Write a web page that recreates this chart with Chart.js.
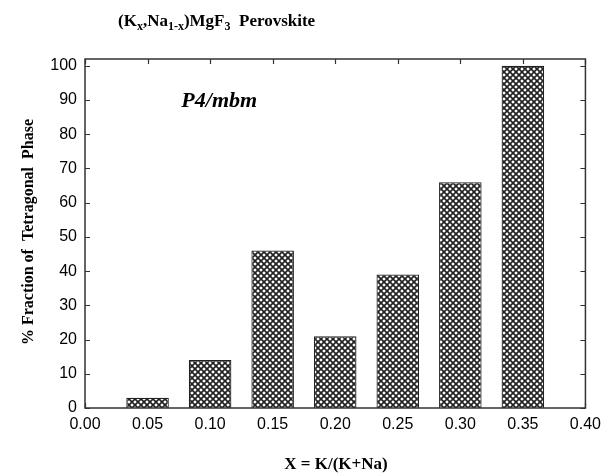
<!DOCTYPE html>
<html lang="en">
<head>
    <meta charset="UTF-8">
    <title>(Kx,Na1-x)MgF3 Perovskite</title>
    <style>
        body {
            margin: 0;
            background-color: #fff;
        }

        #chart-box {
            width: 608px;
            height: 475px;
        }
    </style>
</head>
<body>
    <div id="chart-box">
        <canvas id="phase-chart" width="608" height="475"></canvas>
    </div>

    <script src="https://cdn.jsdelivr.net/npm/chart.js"></script>

    <script>
        // data
        const compositions = [0.05, 0.10, 0.15, 0.20, 0.25, 0.30, 0.35];
        const tetragonalPct = [3, 14, 46, 21, 39, 66, 100];
        const xTicks = [0.00, 0.05, 0.10, 0.15, 0.20, 0.25, 0.30, 0.35, 0.40];
        const yTicks = [0, 10, 20, 30, 40, 50, 60, 70, 80, 90, 100];

        // cross-hatch fill for the bars
        function makeHatch() {
            const tile = document.createElement('canvas');
            tile.width = 6;
            tile.height = 6;
            const c = tile.getContext('2d');
            c.fillStyle = '#fff';
            c.fillRect(0, 0, 6, 6);
            c.strokeStyle = '#222';
            c.lineWidth = 1.7;
            c.beginPath();
            c.moveTo(-1, -1); c.lineTo(7, 7);
            c.moveTo(-1, 7); c.lineTo(7, -1);
            c.stroke();
            return c.createPattern(tile, 'repeat');
        }

        // frame with inward ticks on all four sides
        const frameTicks = {
            id: 'frameTicks',
            beforeDatasetsDraw(chart) {
                const ctx = chart.ctx;
                const a = chart.chartArea;
                const xs = chart.scales.x, ys = chart.scales.y;
                ctx.save();
                ctx.strokeStyle = '#333';
                ctx.lineWidth = 1.2;
                ctx.beginPath();
                yTicks.forEach(v => {
                    const py = Math.round(ys.getPixelForValue(v)) + 0.5;
                    ctx.moveTo(a.left, py); ctx.lineTo(a.left + 5, py);
                    ctx.moveTo(a.right, py); ctx.lineTo(a.right - 5, py);
                });
                xTicks.forEach(v => {
                    const px = Math.round(xs.getPixelForValue(v)) + 0.5;
                    ctx.moveTo(px, a.top); ctx.lineTo(px, a.top + 5);
                    ctx.moveTo(px, a.bottom); ctx.lineTo(px, a.bottom - 5);
                });
                ctx.stroke();
                ctx.restore();
            },
            afterDraw(chart) {
                const ctx = chart.ctx;
                const a = chart.chartArea;
                const xs = chart.scales.x, ys = chart.scales.y;
                ctx.save();
                ctx.strokeStyle = '#333';
                ctx.lineWidth = 1.5;
                ctx.strokeRect(a.left, a.top, a.right - a.left, a.bottom - a.top);

                ctx.fillStyle = '#000';
                // title with subscripts
                const big = 'bold 17px "Liberation Serif", serif';
                const small = 'bold 12px "Liberation Serif", serif';
                const parts = [
                    ['(K', big, 0], ['x', small, 4], [',Na', big, 0], ['1-x', small, 4],
                    [')MgF', big, 0], ['3', small, 4], ['  Perovskite', big, 0]
                ];
                let tx = 118;
                ctx.textBaseline = 'alphabetic';
                ctx.textAlign = 'left';
                parts.forEach(p => {
                    ctx.font = p[1];
                    ctx.fillText(p[0], tx, 26 + p[2]);
                    tx += ctx.measureText(p[0]).width;
                });

                // space group label
                ctx.font = 'italic bold 22px "Liberation Serif", serif';
                ctx.fillText('P4/mbm', xs.getPixelForValue(0.077), ys.getPixelForValue(88));

                // axis titles
                ctx.font = 'bold 17px "Liberation Serif", serif';
                ctx.textAlign = 'center';
                ctx.fillText('X = K/(K+Na)', 336, 469);

                ctx.font = 'bold 16px "Liberation Serif", serif';
                ctx.translate(33, 232);
                ctx.rotate(-Math.PI / 2);
                ctx.fillText('% Fraction of  Tetragonal  Phase', 0, 0);
                ctx.restore();
            }
        };

        const ctx = document.getElementById('phase-chart').getContext('2d');
        new Chart(ctx, {
            type: 'bar',
            data: {
                datasets: [{
                    data: compositions.map((x, i) => ({ x: x, y: tetragonalPct[i] })),
                    backgroundColor: makeHatch(),
                    borderColor: '#222',
                    borderWidth: 1.2,
                    barPercentage: 0.68,
                    categoryPercentage: 1
                }]
            },
            options: {
                responsive: false,
                animation: false,
                layout: { padding: { top: 59, right: 20, left: 0, bottom: 0 } },
                plugins: {
                    legend: { display: false },
                    tooltip: { enabled: false }
                },
                scales: {
                    x: {
                        type: 'linear',
                        min: 0,
                        max: 0.4,
                        offset: false,
                        afterBuildTicks: s => { s.ticks = xTicks.map(v => ({ value: v })); },
                        afterFit: s => { s.height = 67; },
                        grid: { display: false, drawTicks: false },
                        border: { display: false },
                        ticks: {
                            padding: 7,
                            color: '#000',
                            maxRotation: 0,
                            autoSkip: false,
                            font: { family: '"Liberation Sans", Arial, sans-serif', size: 16 },
                            callback: v => Number(v).toFixed(2)
                        }
                    },
                    y: {
                        min: 0,
                        max: 102,
                        afterBuildTicks: s => { s.ticks = yTicks.map(v => ({ value: v })); },
                        afterFit: s => { s.width = 85; },
                        grid: { display: false, drawTicks: false },
                        border: { display: false },
                        ticks: {
                            padding: 8,
                            color: '#000',
                            font: { family: '"Liberation Sans", Arial, sans-serif', size: 16 }
                        }
                    }
                }
            },
            plugins: [frameTicks]
        });
    </script>
</body>
</html>
